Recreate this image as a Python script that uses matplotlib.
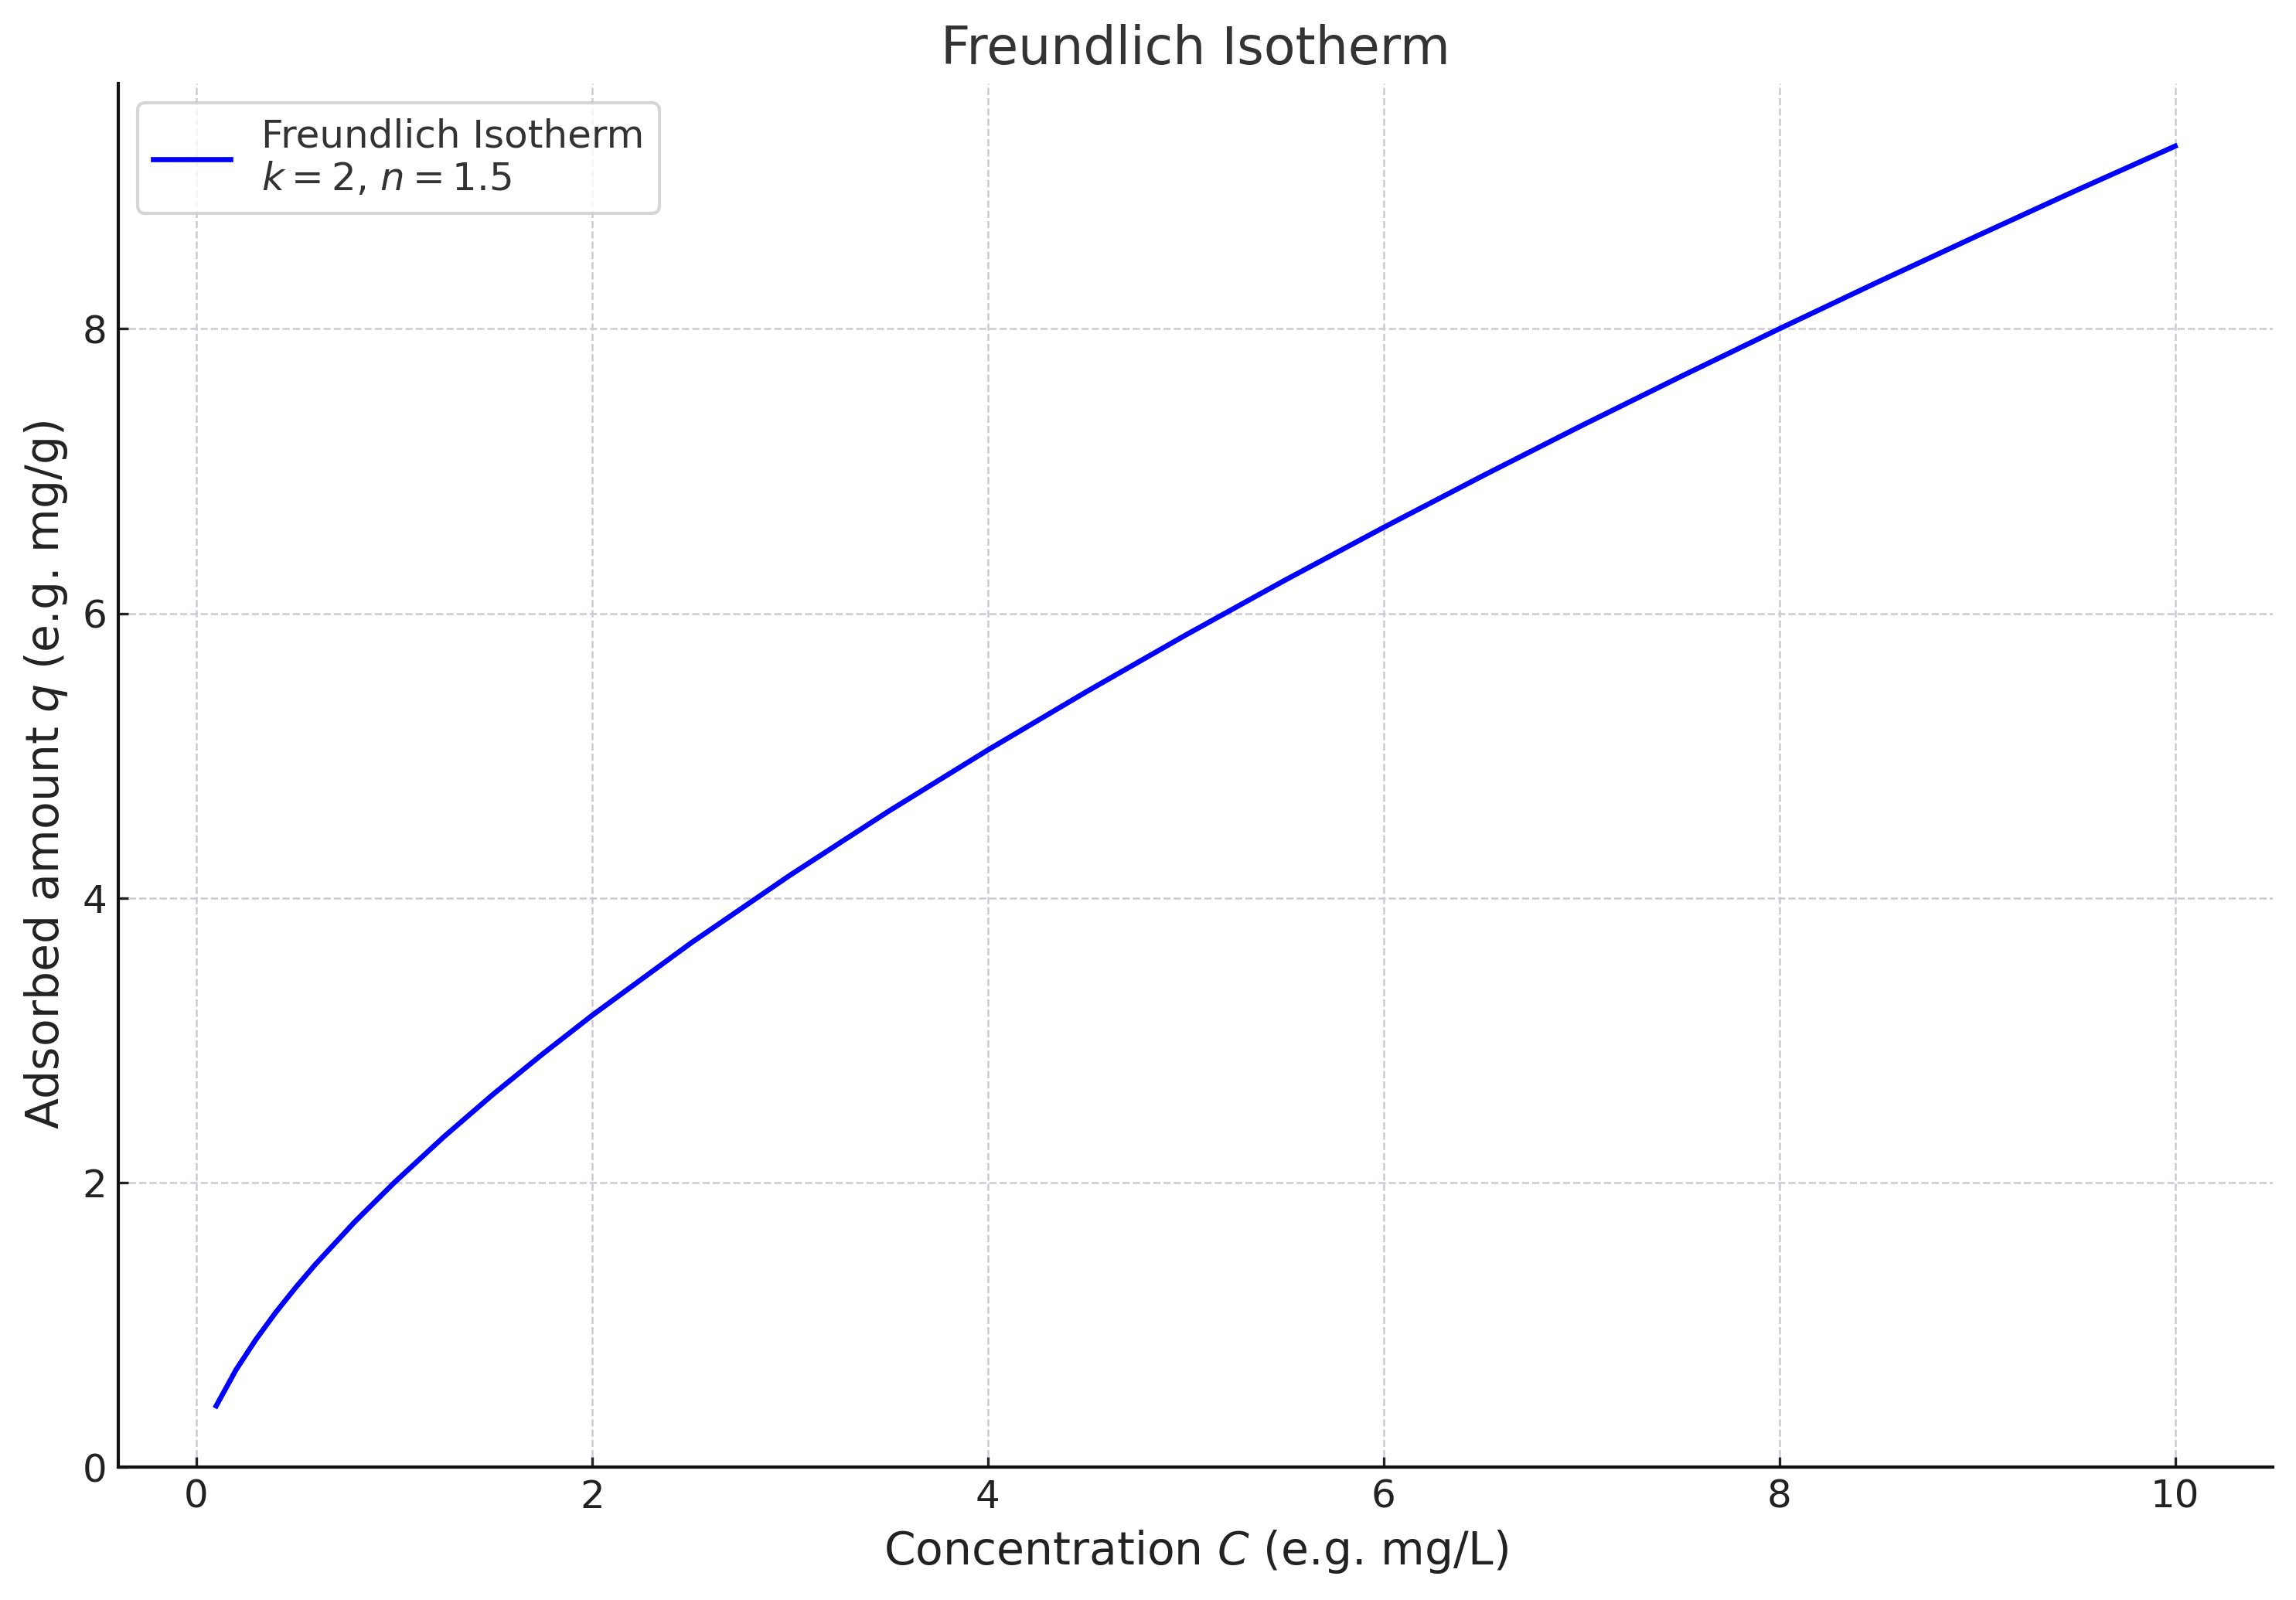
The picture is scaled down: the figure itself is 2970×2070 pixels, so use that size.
import matplotlib
matplotlib.use("Agg")
import matplotlib.pyplot as plt

# Data
concentration = [0.1, 0.2, 0.3, 0.4, 0.5, 0.6, 0.8, 1.0, 1.25, 1.5, 1.75, 2.0, 2.5,
                 3.0, 3.5, 4.0, 4.5, 5.0, 5.5, 6.0, 6.5, 7.0, 7.5, 8.0, 8.5, 9.0,
                 9.5, 10.0]
adsorbed = [0.431, 0.684, 0.896, 1.086, 1.260, 1.423, 1.724, 2.000, 2.321, 2.621,
            2.904, 3.175, 3.684, 4.160, 4.611, 5.040, 5.451, 5.848, 6.232, 6.604,
            6.966, 7.319, 7.663, 8.000, 8.330, 8.653, 8.972, 9.283]
series_label = "Freundlich Isotherm\n$k = 2$, $n = 1.5$"
title = "Freundlich Isotherm"
xlabel = "Concentration $C$ (e.g. mg/L)"
ylabel = "Adsorbed amount $q$ (e.g. mg/g)"

plt.rcParams['font.family'] = ['DejaVu Sans']
plt.rcParams['mathtext.fontset'] = 'dejavusans'

fig = plt.figure(figsize=(9.9, 6.9), dpi=300)
ax = fig.add_axes([0.0515, 0.083, 0.9385, 0.865])

ax.plot(concentration, adsorbed, color='#0000ff', linewidth=1.6, label=series_label)
ax.set_ylim(bottom=0)

ax.set_title(title, fontsize=16, color='#333333')
ax.set_xlabel(xlabel, fontsize=14, color='#222222')
ax.set_ylabel(ylabel, fontsize=14, color='#222222')
ax.tick_params(axis='both', labelsize=12, colors='#222222', length=3.2, width=0.8,
               direction='in')

ax.grid(True, linestyle='--', color='#cfc9d3', linewidth=0.6)
ax.set_axisbelow(True)
for side in ['top', 'right']:
    ax.spines[side].set_visible(False)
for side in ['left', 'bottom']:
    ax.spines[side].set_linewidth(1.0)
    ax.spines[side].set_color('#111111')

leg = ax.legend(loc='upper left', fontsize=12, frameon=True, fancybox=True,
                edgecolor='#cccccc', labelcolor='#333333')

fig.savefig("out.png", dpi=300, facecolor='white')
